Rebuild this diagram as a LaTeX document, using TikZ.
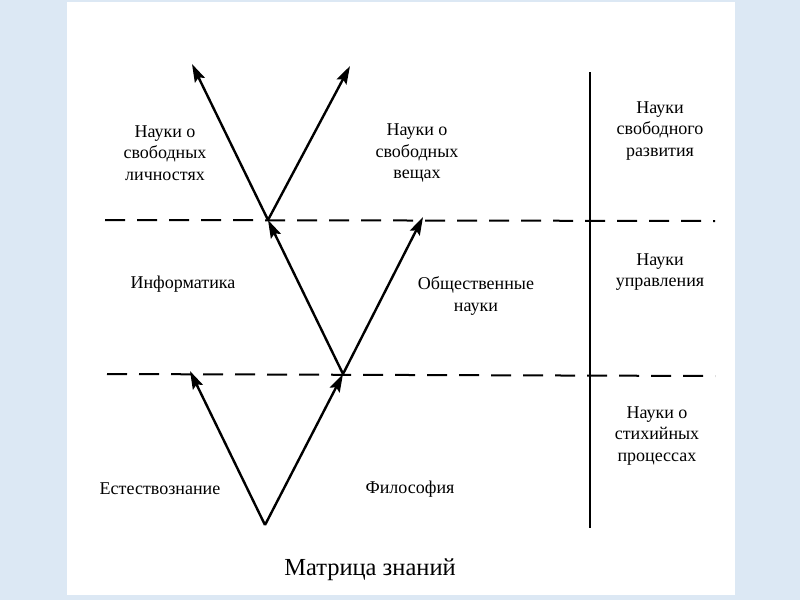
\documentclass[tikz,border=0pt]{standalone}
\usepackage{fontspec}
\setmainfont{Liberation Serif}
\usetikzlibrary{arrows.meta}
\definecolor{bgblue}{HTML}{DCE8F4}
\tikzset{
  arr/.style={line width=2.4pt,-{Stealth[length=18pt,width=11pt,inset=3pt]}},
  dashline/.style={line width=2pt,dash pattern=on 20pt off 12pt},
  lbl/.style={font=\fontsize{18}{21.5}\selectfont,align=center,inner sep=0pt},
  captext/.style={font=\fontsize{24.5}{28}\selectfont,inner sep=0pt}
}
\begin{document}
\begin{tikzpicture}[x=1pt,y=-1pt]
\useasboundingbox (0,0) rectangle (800,600);
\fill[bgblue] (0,0) rectangle (800,600);
\fill[white] (67,2) rectangle (735,595);
% points
\coordinate (v) at (265,525);
\coordinate (a) at (190,371);
\coordinate (b) at (343,374);
\coordinate (c) at (268,220);
\coordinate (d) at (423,217);
\coordinate (e) at (192,64);
\coordinate (f) at (350,66);
% dashed levels
\coordinate (t1) at (105,220);
\coordinate (t2) at (715,221);
\coordinate (l1) at (107,374);
\coordinate (l2) at (715,376);
\draw[dashline] (t1) -- (t2);
\draw[dashline] (l1) -- (l2);
% vertical line
\coordinate (s1) at (590,72);
\coordinate (s2) at (590,528);
\draw[line width=2.2pt] (s1) -- (s2);
% arrows
\draw[arr] (v) -- (a);
\draw[arr] (v) -- (b);
\draw[arr] (b) -- (c);
\draw[arr] (b) -- (d);
\draw[arr] (c) -- (e);
\draw[arr] (c) -- (f);
% labels
\node[lbl] (n1) at (165,153) {Науки о\\свободных\\личностях};
\node[lbl] (n2) at (417,153) {Науки о\\свободных\\вещах};
\node[lbl] (n3) at (660,131) {Науки\\свободного\\развития};
\node[lbl] (n4) at (183,284) {Информатика};
\node[lbl] (n5) at (476,296) {Общественные\\науки};
\node[lbl] (n6) at (660,272) {Науки\\управления};
\node[lbl] (n7) at (657,436) {Науки о\\стихийных\\процессах};
\node[lbl] (n8) at (160,489) {Естествознание};
\node[lbl] (n9) at (410,489) {Философия};
\node[captext] (n10) at (370,570) {Матрица знаний};
\end{tikzpicture}
\end{document}
